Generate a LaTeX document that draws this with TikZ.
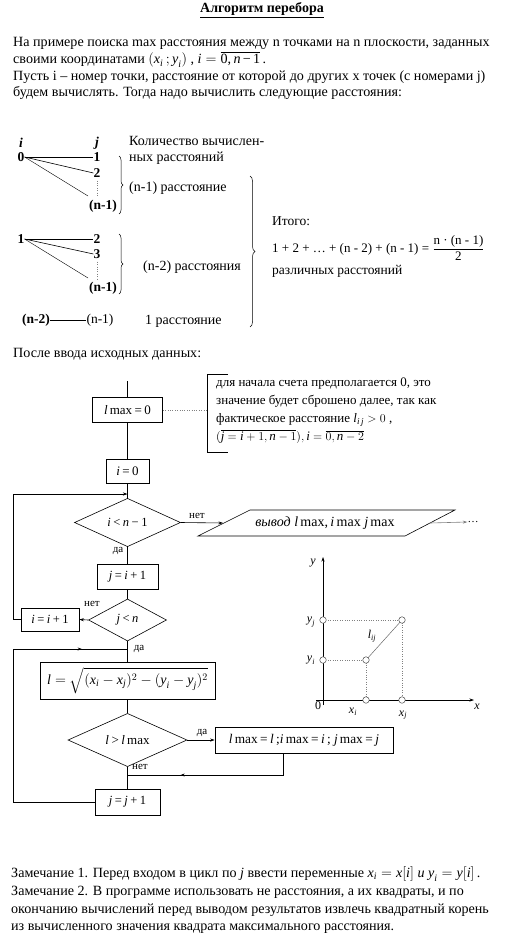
\documentclass[tikz,border=0pt]{standalone}
\usepackage{amsmath}
\usepackage{fontspec}
\setmainfont{Liberation Serif}
\usetikzlibrary{arrows.meta,calc,decorations.markings,decorations.pathreplacing,shapes.geometric}
\newcommand\mv[1]{\textit{#1}}
\newcommand\op[1]{\kern2.5pt#1\kern2.5pt}
\newcommand\fsz[1]{\fontsize{#1}{#1}\selectfont}
\tikzset{
  txt/.style={anchor=base west, inner sep=0pt, font=\fsz{14.1}},
  ttx/.style={anchor=base west, inner sep=0pt, font=\fsz{14}},
  rtx/.style={anchor=base west, inner sep=0pt, font=\fsz{13.5}},
  ctx/.style={inner sep=0pt, font=\fsz{13.5}\bfseries},
  fbox/.style={draw, line width=0.6pt, inner sep=0pt, font=\fsz{12.5}},
  dec/.style={shape=diamond, draw, line width=0.6pt, inner sep=0pt, font=\fsz{12.5}},
  lab/.style={inner sep=0pt, font=\fsz{11}},
  ln/.style={line width=0.6pt},
  arr/.style={ln, -{Stealth[length=4.5pt,width=3pt]}},
  midarr/.style={ln, postaction={decorate}, decoration={markings, mark=at position #1 with {\arrow{Stealth[length=4pt,width=3pt]}}}},
  brc/.style={decorate, decoration={brace, amplitude=#1}, line width=0.5pt},
  dot/.style={circle, draw=black!70, fill=white, line width=0.5pt, inner sep=0pt, minimum size=6.5pt},
}
\begin{document}
\begin{tikzpicture}[x=1pt,y=-1pt]
\useasboundingbox[fill=white] (0,0) rectangle (510,939);

% title and intro
\node[inner sep=0pt, font=\fsz{14}\bfseries] (title) at (262,10) {\underline{Алгоритм перебора}};
\node[txt] (p1) at (13,47) {На примере поиска max расстояния между n точками на n плоскости, заданных};
\node[txt] (p2) at (13,64) {своими координатами $(\mv{x}_{\mv{i}}\,;\mv{y}_{\mv{i}})$ , $\mv{i}=\overline{\hbox{0,\,\mv{n}\,−\,1}}$\,.};
\node[txt] (p3) at (13,81) {Пусть i – номер точки, расстояние от которой до других x точек (с номерами j)};
\node[txt] (p4) at (13,97) {будем вычислять.  Тогда надо вычислить следующие расстояния:};

% tree 1
\node[ctx] (ti) at (21,143) {\textit{i}};
\node[ctx] (tj) at (97,143) {\textit{j}};
\node[ttx] (k1) at (129,146) {Количество вычислен-};
\node[ttx] (k2) at (129,161) {ных расстояний};
\node[ctx] (a0) at (21,157) {0};
\node[ctx] (a1) at (97,157) {1};
\node[ctx] (a2) at (97,173) {2};
\node[ctx] (an) at (103,206) {(n-1)};
\coordinate (ae) at (88,196);
\draw[ln] (a0.east) -- (a1.west);
\draw[ln] (a0.east) -- (a2.west);
\draw[line width=0.4pt] (a0.east) -- (ae);
\draw[dotted, gray] ($(a2.south)+(0,3)$) -- ($(an.north)+(-6,-3)$);
\draw[brc=4pt] (119,156) -- (119,214);
\node[ttx] (r1) at (129,191) {(n-1) расстояние};

% tree 2
\node[ctx] (b1) at (21,239) {1};
\node[ctx] (b2) at (97,239) {2};
\node[ctx] (b3) at (97,254) {3};
\node[ctx] (bn) at (103,288) {(n-1)};
\coordinate (be) at (88,278);
\draw[ln] (b1.east) -- (b2.west);
\draw[ln] (b1.east) -- (b3.west);
\draw[line width=0.4pt] (b1.east) -- (be);
\draw[dotted, gray] ($(b3.south)+(0,3)$) -- ($(bn.north)+(-6,-3)$);
\draw[brc=4pt] (119,234) -- (119,294);
\node[ttx] (r2) at (143,270) {(n-2) расстояния};

% tree 3
\node[ctx] (c1) at (36,320) {(n-2)};
\node[inner sep=0pt, font=\fsz{13.5}] (c2) at (100,320) {(n-1)};
\draw[ln] (c1.east) -- (c2.west);
\node[ttx] (r3) at (145,324.5) {1 расстояние};

% big brace and total
\draw[brc=5pt] (250,176) -- (250,327);
\node[rtx] (s1) at (272,225) {Итого:};
\node[anchor=west, inner sep=0pt, font=\fsz{13}] (s2) at (272,248) {1 + 2 + … + (n - 2) + (n - 1) = $\dfrac{\hbox{n · (n - 1)}}{\hbox{2}}$};
\node[rtx] (s3) at (272,274) {различных расстояний};

\node[txt] (after) at (13,357) {После ввода исходных данных:};

% flowchart
\coordinate (start) at (127.5,381);
\node[fbox, minimum width=70pt, minimum height=25pt, font=\fsz{13}] (lmax) at (127.5,410) {\mv{l}\,max\op{=}0};
\node[fbox, minimum width=43pt, minimum height=24pt, font=\fsz{13}] (i0) at (127.5,471) {\mv{i}\op{=}0};
\node[dec, minimum width=106pt, minimum height=39pt] (d1) at (127.5,522.5) {\mv{i}\op{<}\mv{n}\op{−}1};
\node[fbox, minimum width=61pt, minimum height=25pt] (ji) at (127.5,577) {\mv{j}\op{=}\mv{i}\op{+}1};
\node[dec, minimum width=78pt, minimum height=42pt] (d2) at (127.5,620) {\mv{j}\op{<}\mv{n}};
\node[fbox, minimum width=58pt, minimum height=23pt] (inc) at (50,619.5) {\mv{i}\op{=}\mv{i}\op{+}1};
\node[fbox, minimum width=175pt, minimum height=37pt, font=\fsz{14}] (form) at (127.5,681) {$\mv{l} = \sqrt{(\mv{x}_{\mv{i}} - \mv{x}_{\mv{j}})^2 - (\mv{y}_{\mv{i}} - \mv{y}_{\mv{j}})^2}$};
\node[dec, minimum width=119pt, minimum height=38pt, font=\fsz{13}] (d3) at (127.5,740) {\mv{l}\op{>}\mv{l}\,max};
\node[fbox, minimum width=178pt, minimum height=26pt, font=\fsz{13.3}] (upd) at (304,740) {\mv{l}\,max\op{=}\mv{l}\,;\mv{i}\,max\op{=}\mv{i}\,; \mv{j}\,max\op{=}\mv{j}};
\node[fbox, minimum width=65pt, minimum height=26pt] (jj) at (127.5,802) {\mv{j}\op{=}\mv{j}\op{+}1};

% output parallelogram
\draw[ln] (198,536) -- (250,510) -- (455,510) -- (405,536) -- cycle;
\node[inner sep=0pt, font=\fsz{14}] (out) at (325,523) {\textit{вывод} \mv{l}\,max,\,\mv{i}\,max \mv{j}\,max};
\coordinate (outin) at (223,523);
\coordinate (outex) at (430,523);
\node[inner sep=0pt, font=\fsz{11}] (dots) at (473,522) {…};

% note
\draw[ln] (228,374) -- (207,374) -- (207,452) -- (228,452);
\coordinate (noteL) at (207,410);
\node[anchor=north west, inner sep=0pt, align=left, font=\fontsize{13}{17.8}\selectfont] (note) at (216,378)
  {для начала счета предполагается 0, это\\
   значение будет сброшено далее, так как\\
   фактическое расстояние $\mv{l}_{\mv{i}\,\mv{j}} > 0$ ,\\
   $(\overline{\mv{j} = \mv{i} + 1, \mv{n} - 1}), \mv{i} = \overline{0, \mv{n} - 2}$};
\draw[dotted, gray] (lmax.east) -- (noteL);

% connectors
\coordinate (lx1) at (13,494);
\coordinate (m1) at (127.5,494);
\coordinate (lx2) at (13,649);
\coordinate (m2) at (127.5,649);
\coordinate (rt) at (283,775);
\coordinate (m3) at (127.5,775);
\draw[ln] (start) -- (lmax.north);
\draw[ln] (lmax.south) -- (i0.north);
\draw[ln] (i0.south) -- (d1.north);
\draw[ln] (d1.south) -- (ji.north);
\draw[ln] (ji.south) -- (d2.north);
\draw[ln] (d2.south) -- (form.north);
\draw[ln] (form.south) -- (d3.north);
\draw[ln] (d3.south) -- (jj.north);
\draw[arr] (d1.east) -- (outin);
\draw[gray, line width=0.6pt, -{Stealth[length=4.5pt,width=3pt]}] (outex) -- (dots.west);
\draw[arr] (d2.west) -- (inc.east);
\draw[arr] (inc.west) -| (lx1) -- (m1);
\draw[arr] (d3.east) -- (upd.west);
\draw[midarr=0.7] (upd.south -| rt) -- (rt) -- (m3);
\draw[ln] (jj.west) -| (lx2);
\draw[midarr=0.6] (lx2) -- (m2);

% labels
\node[lab, anchor=south] (l1) at (197,519) {нет};
\node[lab] (l2) at (118,551) {да};
\node[lab] (l3) at (92,604) {нет};
\node[lab] (l4) at (139,649) {да};
\node[lab, anchor=south] (l5) at (202,737) {да};
\node[lab] (l6) at (140,767) {нет};

% coordinate plane
\coordinate (O) at (323,700);
\draw[arr] (316,700) -- (474,700);
\draw[arr] (323,705) -- (323,557);
\draw[dotted, gray] (323,620) -- (402,620) -- (402,700);
\draw[dotted, gray] (323,660) -- (366,660) -- (366,700);
\draw[line width=0.5pt, black!60] (366,660) -- (402,620);
\node[dot] (pyj) at (323,620) {};
\node[dot] (pyi) at (323,660) {};
\node[dot] (pi) at (366,660) {};
\node[dot] (pj) at (402,620) {};
\node[dot] (pxi) at (366,700) {};
\node[dot] (pxj) at (402,700) {};
\node[lab, font=\fsz{12}] at (313,563) {\textit{y}};
\node[lab, font=\fsz{12}] at (477,707) {\textit{x}};
\node[lab, font=\fsz{12}] at (318,706) {0};
\node[lab, font=\fsz{12}] at (311,622) {$\mv{y}_{\mv{j}}$};
\node[lab, font=\fsz{12}] at (311,660) {$\mv{y}_{\mv{i}}$};
\node[lab, font=\fsz{12}] at (353,712) {$\mv{x}_{\mv{i}}$};
\node[lab, font=\fsz{12}] at (403,715) {$\mv{x}_{\mv{j}}$};
\node[lab, font=\fsz{12}] at (372,636) {$\mv{l}_{\mv{ij}}$};

% remarks
\node[txt] (z1) at (11,877.5) {Замечание 1. Перед входом в цикл по \textit{j} ввести переменные $\mv{x}_{\mv{i}} = \mv{x}[\mv{i}]$ \mv{и} $\mv{y}_{\mv{i}} = \mv{y}[\mv{i}]$\,.};
\node[txt] (z2) at (11,895.5) {Замечание 2. В программе использовать не расстояния, а их квадраты, и по};
\node[txt] (z3) at (11,913.5) {окончанию вычислений перед выводом результатов извлечь квадратный корень};
\node[txt] (z4) at (11,930.5) {из вычисленного значения квадрата максимального расстояния.};
\end{tikzpicture}
\end{document}
